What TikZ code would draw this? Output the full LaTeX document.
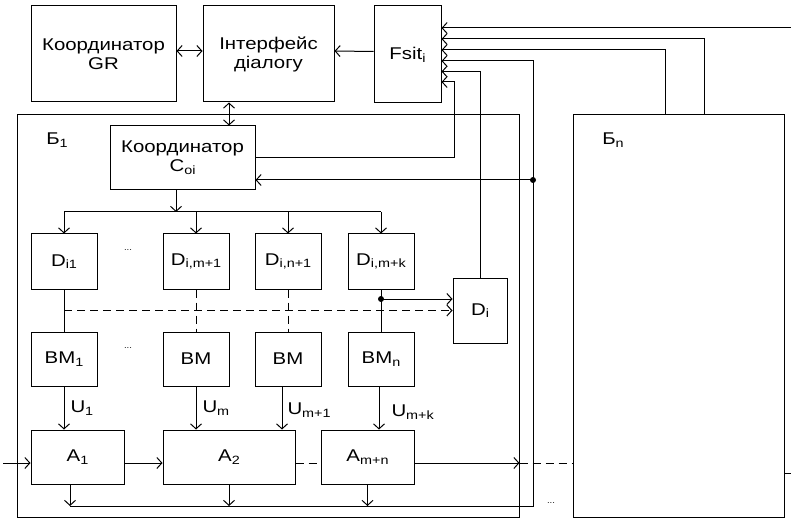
\documentclass[tikz,border=0pt]{standalone}
\usepackage{fontspec}
\setmainfont{Liberation Sans}[FakeStretch=1.2]
\usetikzlibrary{arrows.meta,calc}
\newcommand\mysub[1]{\raisebox{-0.3ex}{\fontsize{12}{12}\selectfont #1}}
\begin{document}
\begin{tikzpicture}[x=1pt,y=-1pt,
  line width=1pt,
  >={Straight Barb[length=5pt,width=11pt]},
  bx/.style 2 args={draw,inner sep=0pt,minimum width=#1,minimum height=#2,align=center,font=\fontsize{17}{19}\selectfont},
  lab/.style={inner sep=0pt,font=\fontsize{17}{19}\selectfont},
  dts/.style={inner sep=0pt,font=\fontsize{8}{8}\selectfont},
  dsh/.style={dash pattern=on 8pt off 5pt}]
\useasboundingbox (0,0) rectangle (791,518);
% frames
\node[bx={502pt}{402pt}] (b1) at (268,316) {};
\node[bx={211pt}{402pt}] (bn) at (678.5,316) {};
\node[lab] (b1lab) at (57,140) {Б\mysub{1}};
\node[lab] (bnlab) at (613,140) {Б\mysub{n}};
% top
\node[bx={145pt}{96pt}] (gr) at (103.5,54) {Координатор\\GR};
\node[bx={131pt}{96pt}] (intf) at (268.5,54) {Інтерфейс\\діалогу};
\node[bx={67pt}{97pt}] (fsit) at (407.5,54.5) {Fsit\mysub{i}};
\node[bx={145pt}{64pt}] (coi) at (182.5,158) {Координатор\\C\mysub{oi}};
% D row
\node[bx={66pt}{55pt}] (d1) at (64,261.5) {D\mysub{i1}};
\node[bx={66pt}{55pt}] (d2) at (196,261.5) {D\mysub{i,m+1}};
\node[bx={66pt}{55pt}] (d3) at (288,261.5) {D\mysub{i,n+1}};
\node[bx={66pt}{55pt}] (d4) at (381,261.5) {D\mysub{i,m+k}};
\node[bx={54pt}{65pt}] (di) at (480,310.5) {D\mysub{i}};
% BM row
\node[bx={66pt}{54pt}] (m1) at (64,359) {BM\mysub{1}};
\node[bx={66pt}{54pt}] (m2) at (196,359) {BM};
\node[bx={66pt}{54pt}] (m3) at (288,359) {BM};
\node[bx={66pt}{54pt}] (m4) at (381,359) {BM\mysub{n}};
% A row
\node[bx={93pt}{54pt}] (a1) at (77.5,457) {A\mysub{1}};
\node[bx={132pt}{54pt}] (a2) at (229,457) {A\mysub{2}};
\node[bx={93pt}{54pt}] (a3) at (367.5,457) {A\mysub{m+n}};
% ellipses
\node[dts] (e1) at (128,250) {...};
\node[dts] (e2) at (128,348) {...};
\node[dts] (e3) at (551,503) {...};
% helper coordinates
\coordinate (bus) at (0,212);
\coordinate (obus) at (0,506);
\coordinate (y299) at (0,299);
\coordinate (y180) at (0,180);
\coordinate (in) at (3,463);
\coordinate (rin) at (791,28);
\coordinate (rt) at (791,473);
\coordinate (x533) at (533,0);
\coordinate (x454) at (454,0);
\coordinate (x665) at (665,0);
\coordinate (x704) at (704,0);
% top connectors
\draw[<->] ([yshift=3pt]gr.east) -- ([yshift=3pt]intf.west);
\draw[->] ([yshift=3pt]fsit.west) -- ([yshift=3pt]intf.east);
\draw[<->] ([xshift=-39.5pt]intf.south) -- ([xshift=-39.5pt]intf.south |- coi.north);
% coordinator to D
\draw[->] ([xshift=-6.5pt]coi.south) -- ([xshift=-6.5pt]coi.south |- bus);
\draw (d1.north |- bus) -- (d4.north |- bus);
\foreach \n in {d1,d2,d3,d4} \draw[->] (\n.north |- bus) -- (\n.north);
% D to BM
\draw (d1) -- (m1);
\draw[dsh] (d2) -- (m2);
\draw[dsh] (d3) -- (m3);
\draw (d4) -- (m4);
\draw[dsh,->] (d1.south |- di.west) -- (di.west);
\fill (d4.south |- y299) circle (3pt);
\draw[->] (d4.south |- y299) -- (di.west |- y299);
% BM to A
\draw[->] (m1) -- (m1 |- a1.north) node[lab,midway,right=6pt] {U\mysub{1}};
\draw[->] (m2) -- (m2 |- a2.north) node[lab,midway,right=6pt] {U\mysub{m}};
\draw[->] ([xshift=-6pt]m3.south) -- ([xshift=-6pt]m3.south |- a2.north) node[lab,midway,right=5pt,yshift=-2pt] {U\mysub{m+1}};
\draw[->] ([xshift=-2pt]m4.south) -- ([xshift=-2pt]m4.south |- a3.north) node[lab,midway,right=12pt,yshift=-4pt] {U\mysub{m+k}};
% A chain
\draw[->] (in) -- ([yshift=-6pt]a1.west);
\draw[->] ([yshift=-6pt]a1.east) -- ([yshift=-6pt]a2.west);
\draw[dsh] ([yshift=-6pt]a2.east) -- ([yshift=-6pt]a3.west);
\draw[->] ([yshift=-6pt]a3.east) -- ([yshift=-6pt]a3.east -| b1.east);
\draw[dsh] ([yshift=-6pt]a3.east -| b1.east) -- ([yshift=-6pt]a3.east -| bn.west);
% A outputs
\draw[->] ([xshift=-7.5pt]a1.south) -- ([xshift=-7.5pt]a1.south |- obus);
\draw[->] (a2.south) -- (a2.south |- obus);
\draw[->] (a3.south) -- (a3.south |- obus);
\draw[->] ([xshift=-7.5pt]a1.south |- obus) -- (x533 |- obus) |- ([yshift=-6.5pt]fsit.east);
% feedback to Coi
\fill (x533 |- y180) circle (3pt);
\draw[->] (x533 |- y180) -- (coi.east |- y180);
\draw[->] (coi.east) -- (x454 |- coi.east) |- ([yshift=-27.5pt]fsit.east);
\draw[->] (di.north) |- ([yshift=-17pt]fsit.east);
\draw[->] (bn.north -| x665) |- ([yshift=4.5pt]fsit.east);
\draw[->] (bn.north -| x704) |- ([yshift=15.5pt]fsit.east);
\draw[->] (rin) -- ([yshift=26.5pt]fsit.east);
\draw (bn.east |- rt) -- (rt);
\end{tikzpicture}
\end{document}
